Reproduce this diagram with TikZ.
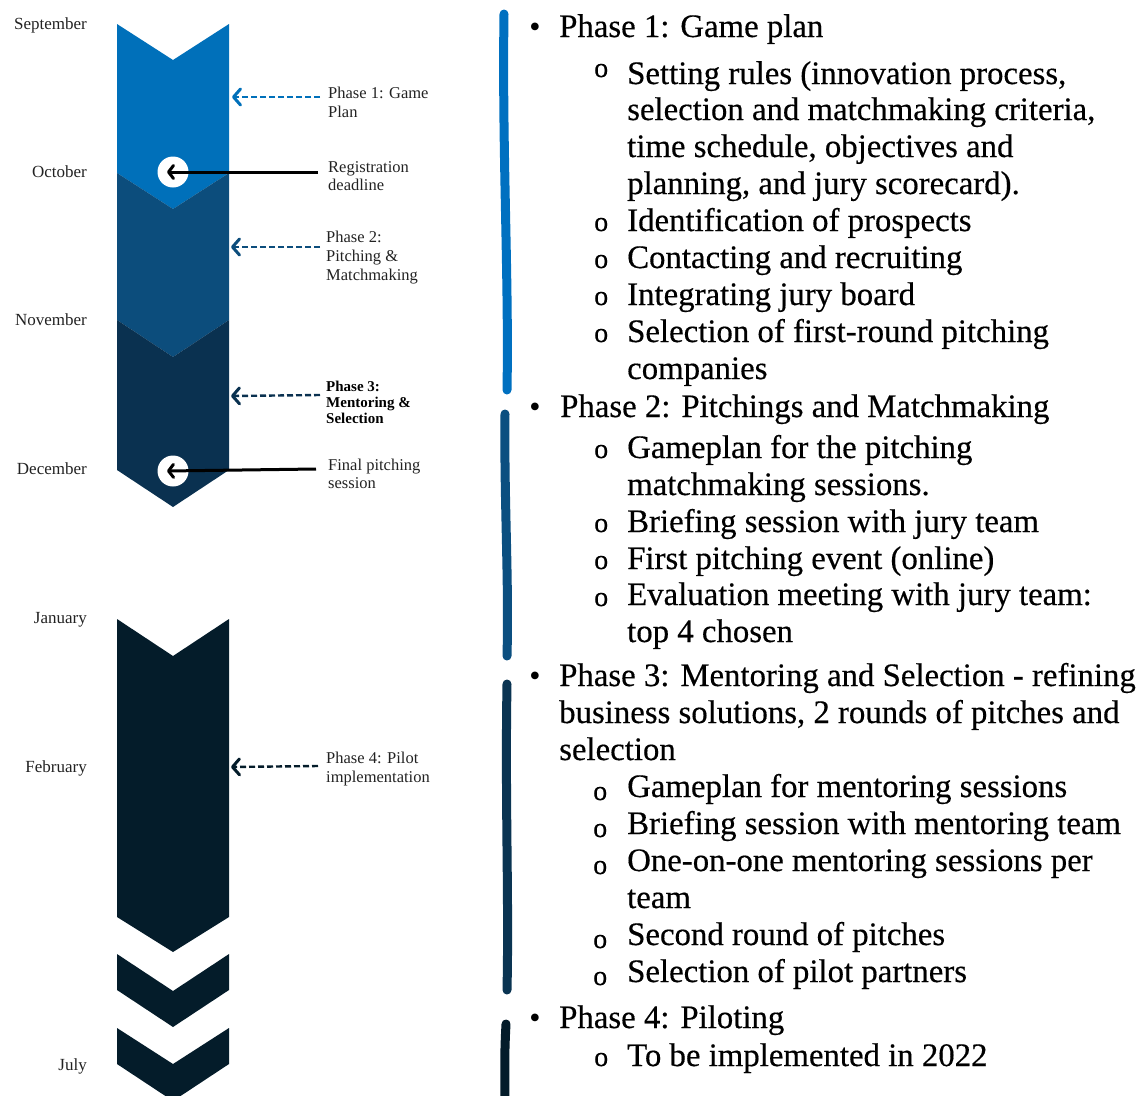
\documentclass[tikz,border=0pt]{standalone}
\usepackage{fontspec}
\setmainfont{Liberation Serif}
\newfontfamily\bodyfont[FakeBold=0.4]{Liberation Serif}
\usetikzlibrary{arrows.meta}
\definecolor{ca}{HTML}{0070BA}
\definecolor{cb}{HTML}{0C4D7C}
\definecolor{cc}{HTML}{0A3150}
\definecolor{cd}{HTML}{041C2A}
\definecolor{ba}{HTML}{0070C0}
\definecolor{bb}{HTML}{0B4F80}
\definecolor{bc}{HTML}{0A3452}
\definecolor{bd}{HTML}{041C2A}
\definecolor{txt}{HTML}{222222}
\begin{document}
\begin{tikzpicture}[x=1pt,y=-1pt,
  month/.style={anchor=base east, inner sep=0pt, text=txt, font=\fontsize{17}{20}\selectfont},
  lab/.style={anchor=base west, inner sep=0pt, text=txt, font=\fontsize{16.5}{19}\selectfont},
  labb/.style={anchor=base west, inner sep=0pt, text=black, font=\fontsize{15}{16}\selectfont\bfseries},
  big/.style={anchor=base west, inner sep=0pt, text=black, font=\bodyfont\fontsize{32.8}{37}\selectfont},
  bul/.style={anchor=base, inner sep=0pt, text=black, font=\fontsize{32}{37}\selectfont},
  sub/.style={anchor=base west, inner sep=0pt, text=black, font=\bodyfont\fontsize{28}{30}\selectfont},
  dasharr/.style={line width=2.4pt, dash pattern=on 6pt off 3pt, -{Straight Barb[length=7pt,width=16pt,line width=3pt,round]}},
  blackarr/.style={line width=3pt, black, -{Straight Barb[length=5pt,width=13pt,line width=3pt,round]}},
  hole/.style={circle, fill=white, minimum size=31pt, inner sep=0pt},
  brush/.style={line width=9pt, line cap=round}
]
\useasboundingbox (0,0) rectangle (1143,1095);

% chevrons
\fill[ca] (117,24) -- (173,60) -- (229,24) -- (229,173) -- (173,209) -- (117,173) -- cycle;
\fill[cb] (117,173) -- (173,209) -- (229,173) -- (229,320) -- (173,357) -- (117,320) -- cycle;
\fill[cc] (117,320) -- (173,357) -- (229,320) -- (229,470) -- (173,507) -- (117,470) -- cycle;
\fill[cd] (117,619) -- (173,656) -- (229,619) -- (229,917) -- (173,952) -- (117,917) -- cycle;
\fill[cd] (117,954) -- (173,991) -- (229,954) -- (229,990) -- (173,1027) -- (117,990) -- cycle;
\fill[cd] (117,1028) -- (173,1064) -- (229,1028) -- (229,1064) -- (173,1101) -- (117,1064) -- cycle;

% months
\node[month] (sep) at (87,29) {September};
\node[month] (oct) at (87,177) {October};
\node[month] (nov) at (87,325) {November};
\node[month] (dec) at (87,474) {December};
\node[month] (jan) at (87,623) {January};
\node[month] (feb) at (87,772) {February};
\node[month] (jul) at (87,1070) {July};

% milestone holes
\node[hole] (h1) at (173,172) {};
\node[hole] (h2) at (173,471) {};

% labels
\node[lab] (p1a) at (328,98) {Phase 1: Game};
\node[lab] (p1b) at (328,117) {Plan};
\node[lab] (rga) at (328,172) {Registration};
\node[lab] (rgb) at (328,190) {deadline};
\node[lab] (p2a) at (326,242) {Phase 2:};
\node[lab] (p2b) at (326,261) {Pitching \&};
\node[lab] (p2c) at (326,280) {Matchmaking};
\node[labb] (p3a) at (326,391) {Phase 3:};
\node[labb] (p3b) at (326,407) {Mentoring \&};
\node[labb] (p3c) at (326,423) {Selection};
\node[lab] (fpa) at (328,470) {Final pitching};
\node[lab] (fpb) at (328,488) {session};
\node[lab] (p4a) at (326,763) {Phase 4: Pilot};
\node[lab] (p4b) at (326,782) {implementation};

% connectors
\coordinate (s1) at (320,97);  \coordinate (t1) at (232,97);
\coordinate (s2) at (320,247); \coordinate (t2) at (231,247);
\coordinate (s3) at (320,395); \coordinate (t3) at (231,396);
\coordinate (s4) at (318,766); \coordinate (t4) at (231,767);
\coordinate (r1) at (318,172);
\coordinate (r2) at (316,469);
\draw[dasharr, ca] (s1) -- (t1);
\draw[dasharr, cb] (s2) -- (t2);
\draw[dasharr, cc] (s3) -- (t3);
\draw[dasharr, cd] (s4) -- (t4);
\draw[blackarr] (r1) -- ([xshift=-6pt]h1.center);
\draw[blackarr] (r2) -- ([xshift=-6pt]h2.center);

% brush bars
\draw[brush, ba] (504,14) .. controls (502,150) and (509,280) .. (507,390);
\draw[brush, bb] (505,414) .. controls (504,500) and (509,580) .. (507,656);
\draw[brush, bc] (507,684) .. controls (505,800) and (509,900) .. (507,990);
\draw[brush, bd] (506,1024) .. controls (504,1060) and (505,1080) .. (505,1100);

% right text
\node[bul] (bu1) at (535,37) {•};
\node[big] (l1) at (559,37) {Phase 1: Game plan};
\node[sub] (o1) at (594,77) {o};
\node[big] (l2) at (627,84) {Setting rules (innovation process,};
\node[big] (l3) at (627,120) {selection and matchmaking criteria,};
\node[big] (l4) at (627,157) {time schedule, objectives and};
\node[big] (l5) at (627,194) {planning, and jury scorecard).};
\node[sub] (o2) at (594,231) {o};
\node[big] (l6) at (627,231) {Identification of prospects};
\node[sub] (o3) at (594,268) {o};
\node[big] (l7) at (627,268) {Contacting and recruiting};
\node[sub] (o4) at (594,305) {o};
\node[big] (l8) at (627,305) {Integrating jury board};
\node[sub] (o5) at (594,342) {o};
\node[big] (l9) at (627,342) {Selection of first-round pitching};
\node[big] (l10) at (627,379) {companies};

\node[bul] (bu2) at (535,417) {•};
\node[big] (l11) at (560,417) {Phase 2: Pitchings and Matchmaking};
\node[sub] (o6) at (594,458) {o};
\node[big] (l12) at (627,458) {Gameplan for the pitching};
\node[big] (l13) at (627,495) {matchmaking sessions.};
\node[sub] (o7) at (594,532) {o};
\node[big] (l14) at (627,532) {Briefing session with jury team};
\node[sub] (o8) at (594,569) {o};
\node[big] (l15) at (627,569) {First pitching event (online)};
\node[sub] (o9) at (594,606) {o};
\node[big] (l16) at (627,605) {Evaluation meeting with jury team:};
\node[big] (l17) at (627,642) {top 4 chosen};

\node[bul] (bu3) at (535,686) {•};
\node[big] (l18) at (559,686) {Phase 3: Mentoring and Selection - refining};
\node[big] (l19) at (559,723) {business solutions, 2 rounds of pitches and};
\node[big] (l20) at (559,760) {selection};
\node[sub] (o10) at (593,800) {o};
\node[big] (l21) at (627,797) {Gameplan for mentoring sessions};
\node[sub] (o11) at (593,837) {o};
\node[big] (l22) at (627,834) {Briefing session with mentoring team};
\node[sub] (o12) at (593,874) {o};
\node[big] (l23) at (627,871) {One-on-one mentoring sessions per};
\node[big] (l24) at (627,908) {team};
\node[sub] (o13) at (593,948) {o};
\node[big] (l25) at (627,945) {Second round of pitches};
\node[sub] (o14) at (593,985) {o};
\node[big] (l26) at (627,982) {Selection of pilot partners};

\node[bul] (bu4) at (535,1028) {•};
\node[big] (l27) at (559,1028) {Phase 4: Piloting};
\node[sub] (o15) at (594,1066) {o};
\node[big] (l28) at (627,1066) {To be implemented in 2022};
\end{tikzpicture}
\end{document}
